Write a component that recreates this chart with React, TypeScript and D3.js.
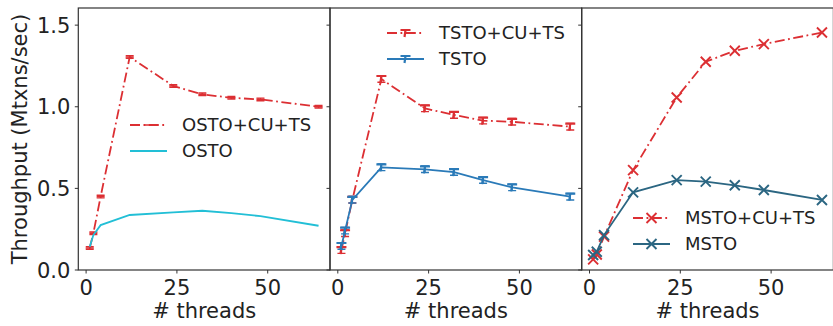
import React, { useRef, useEffect } from "react";
import * as d3 from "d3";

// thread counts shared by every panel
const threads = [1, 2, 4, 12, 24, 32, 40, 48, 64];

// panel 1
const ostoCuTs = [0.135, 0.225, 0.45, 1.305, 1.127, 1.076, 1.055, 1.045, 1.0];
const osto = [0.143, 0.214, 0.275, 0.337, 0.353, 0.363, 0.348, 0.33, 0.271];
// panel 2
const tstoCuTs = [0.122, 0.225, 0.43, 1.17, 0.99, 0.95, 0.915, 0.908, 0.878];
const tsto = [0.147, 0.241, 0.43, 0.629, 0.617, 0.6, 0.551, 0.506, 0.449];
// panel 3
const mstoCuTs = [0.065, 0.095, 0.204, 0.612, 1.057, 1.276, 1.343, 1.384, 1.455];
const msto = [0.092, 0.112, 0.214, 0.476, 0.551, 0.541, 0.519, 0.49, 0.429];

const xTicks = [0, 25, 50];
const yTicks = [0, 0.5, 1.0, 1.5];

const RED = "#dc2f33";
const FONT = "DejaVu Sans, sans-serif";
const DASH = "10,3.5,1.8,3.5";

type Series = { name: string; values: number[]; color: string; dashed: boolean; marker: string; err: number };
type Panel = { series: Series[]; legend: { x: number; y: number } };

const panels: Panel[] = [
  {
    series: [
      { name: "OSTO+CU+TS", values: ostoCuTs, color: RED, dashed: true, marker: "bar", err: 0.008 },
      { name: "OSTO", values: osto, color: "#22bfd6", dashed: false, marker: "none", err: 0 },
    ],
    legend: { x: 130, y: 125 },
  },
  {
    series: [
      { name: "TSTO+CU+TS", values: tstoCuTs, color: RED, dashed: true, marker: "tee", err: 0.02 },
      { name: "TSTO", values: tsto, color: "#2a7ab8", dashed: false, marker: "tee", err: 0.02 },
    ],
    legend: { x: 387, y: 33 },
  },
  {
    series: [
      { name: "MSTO+CU+TS", values: mstoCuTs, color: RED, dashed: true, marker: "x", err: 0 },
      { name: "MSTO", values: msto, color: "#2b6682", dashed: false, marker: "x", err: 0 },
    ],
    legend: { x: 633, y: 218 },
  },
];

const App = () => {
  const svgRef = useRef<SVGSVGElement>(null);

  useEffect(() => {
    const svg = d3.select(svgRef.current);
    svg.selectAll("*").remove();

    const top = 8;
    const bottom = 270;
    const lefts = [78.3, 330, 581.7];
    const panelW = 251.7;

    const y = d3.scaleLinear().domain([0, 1.605]).range([bottom, top]);

    const drawMarker = (g: any, kind: string, cx: number, cy: number, color: string) => {
      if (kind === "x") {
        const s = 5;
        g.append("path")
          .attr("d", `M${cx - s},${cy - s}L${cx + s},${cy + s}M${cx - s},${cy + s}L${cx + s},${cy - s}`)
          .attr("stroke", color).attr("stroke-width", 1.9).attr("fill", "none");
      } else if (kind === "tee") {
        g.append("path")
          .attr("d", `M${cx - 5},${cy - 3}L${cx + 5},${cy - 3}M${cx},${cy - 3}L${cx - 1},${cy + 4}`)
          .attr("stroke", color).attr("stroke-width", 2.2).attr("fill", "none");
      } else if (kind === "bar") {
        g.append("path")
          .attr("d", `M${cx - 4},${cy}L${cx + 4},${cy}`)
          .attr("stroke", color).attr("stroke-width", 1.5).attr("fill", "none");
      }
    };

    panels.forEach((p, i) => {
      const x0 = lefts[i];
      const x = d3.scaleLinear().domain([-2.15, 67.15]).range([x0, x0 + panelW]);
      const g = svg.append("g");

      // series
      p.series.forEach((s) => {
        const pts: [number, number][] = threads.map((t, k) => [x(t), y(s.values[k])]);
        const line = d3.line();
        g.append("path")
          .attr("d", line(pts))
          .attr("fill", "none")
          .attr("stroke", s.color)
          .attr("stroke-width", 1.8)
          .attr("stroke-dasharray", s.dashed ? DASH : null);
        threads.forEach((t, k) => {
          const cx = x(t);
          const v = s.values[k];
          if (s.err > 0) {
            const y1 = y(v + s.err);
            const y2 = y(v - s.err);
            g.append("path")
              .attr("d", `M${cx},${y1}L${cx},${y2}M${cx - 4},${y1}L${cx + 4},${y1}M${cx - 4},${y2}L${cx + 4},${y2}`)
              .attr("stroke", s.color).attr("stroke-width", 1.4).attr("fill", "none");
          }
          drawMarker(g, s.marker, cx, y(v), s.color);
        });
      });

      // frame
      g.append("rect")
        .attr("x", x0).attr("y", top).attr("width", panelW).attr("height", bottom - top)
        .attr("fill", "none").attr("stroke", "#333").attr("stroke-width", 1.2);

      // y ticks on left spine of each panel
      yTicks.forEach((v) => {
        g.append("line")
          .attr("x1", x0 - 3.5).attr("x2", x0).attr("y1", y(v)).attr("y2", y(v))
          .attr("stroke", "#333").attr("stroke-width", 1);
        if (i === 0) {
          g.append("text")
            .attr("x", x0 - 8).attr("y", y(v)).attr("dy", "0.36em")
            .attr("text-anchor", "end")
            .attr("font-family", FONT).attr("font-size", 21).attr("fill", "#222")
            .text(d3.format(".1f")(v));
        }
      });

      // x ticks
      xTicks.forEach((t) => {
        g.append("line")
          .attr("x1", x(t)).attr("x2", x(t)).attr("y1", bottom).attr("y2", bottom + 3.5)
          .attr("stroke", "#333").attr("stroke-width", 1);
        g.append("text")
          .attr("x", x(t)).attr("y", 295)
          .attr("text-anchor", "middle")
          .attr("font-family", FONT).attr("font-size", 21).attr("fill", "#222")
          .text(String(t));
      });

      g.append("text")
        .attr("x", x0 + panelW / 2).attr("y", 318)
        .attr("text-anchor", "middle")
        .attr("font-family", FONT).attr("font-size", 21).attr("fill", "#222")
        .text("# threads");

      // legend
      p.series.forEach((s, k) => {
        const ly = p.legend.y + k * 26;
        const lx = p.legend.x;
        g.append("line")
          .attr("x1", lx).attr("x2", lx + 37).attr("y1", ly).attr("y2", ly)
          .attr("stroke", s.color).attr("stroke-width", 1.8)
          .attr("stroke-dasharray", s.dashed ? DASH : null);
        drawMarker(g, s.marker, lx + 18.5, ly, s.color);
        g.append("text")
          .attr("x", lx + 52).attr("y", ly).attr("dy", "0.36em")
          .attr("font-family", FONT).attr("font-size", 18).attr("fill", "#222")
          .text(s.name);
      });
    });

    svg.append("text")
      .attr("transform", `translate(27,${(top + bottom) / 2}) rotate(-90)`)
      .attr("text-anchor", "middle")
      .attr("font-family", FONT).attr("font-size", 21).attr("fill", "#222")
      .text("Throughput (Mtxns/sec)");
  }, []);

  return (
    <svg
      ref={svgRef}
      width={833}
      height={326}
      style={{ position: "absolute", left: 0, top: 0, background: "#fff" }}
    />
  );
};

export default App;
